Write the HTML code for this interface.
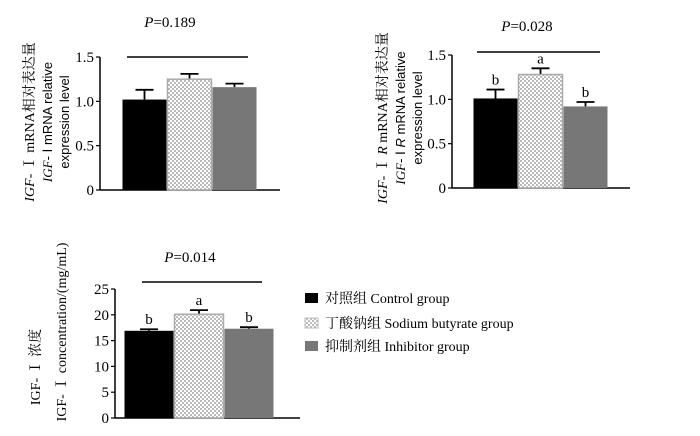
<!DOCTYPE html>
<html><head><meta charset="utf-8"><style>
body{margin:0;background:#fff;}
svg{display:block;font-family:"Liberation Serif","Noto Serif CJK SC",serif;}
</style></head><body>
<svg id="s" width="700" height="436" viewBox="0 0 700 436" xmlns="http://www.w3.org/2000/svg">
<defs>
<pattern id="chk" width="4" height="4" patternUnits="userSpaceOnUse">
<rect width="4" height="4" fill="#fff"/><rect width="2" height="2" fill="#bbb"/><rect x="2" y="2" width="2" height="2" fill="#bbb"/>
</pattern>
</defs>
<!-- y-axis titles -->
<g font-size="14">
<text transform="translate(34,122) rotate(-90)" text-anchor="middle"><tspan font-style="italic">IGF</tspan>- Ⅰ mRNA相对表达量</text>
<text transform="translate(52,122) rotate(-90)" text-anchor="middle" font-family="Liberation Sans, sans-serif" font-size="13"><tspan font-style="italic" font-family="Liberation Serif">IGF</tspan>- Ⅰ mRNA relative</text>
<text transform="translate(69,122) rotate(-90)" text-anchor="middle" font-family="Liberation Sans, sans-serif" font-size="13">expression level</text>
</g>
<g font-size="14">
<text transform="translate(387,118) rotate(-90)" text-anchor="middle"><tspan font-style="italic">IGF</tspan>- Ⅰ <tspan font-style="italic">R</tspan> mRNA相对表达量</text>
<text transform="translate(405,118) rotate(-90)" text-anchor="middle" font-family="Liberation Sans, sans-serif" font-size="13"><tspan font-style="italic" font-family="Liberation Serif">IGF</tspan>- Ⅰ <tspan font-style="italic">R</tspan> mRNA relative</text>
<text transform="translate(422,118) rotate(-90)" text-anchor="middle" font-family="Liberation Sans, sans-serif" font-size="13">expression level</text>
</g>
<g font-size="14">
<text transform="translate(40,367) rotate(-90)" text-anchor="middle">IGF- Ⅰ 浓度</text>
<text transform="translate(66,332) rotate(-90)" text-anchor="middle">IGF- Ⅰ  concentration/(mg/mL)</text>
</g>
<!-- legend -->
<g font-size="14">
<rect x="305" y="293" width="13" height="10" fill="#000"/>
<text x="325" y="303">对照组  Control group</text>
<rect x="305" y="318" width="13" height="10" fill="url(#chk)" stroke="#bbb"/>
<text x="325" y="328">丁酸钠组  Sodium butyrate group</text>
<rect x="305" y="341" width="13" height="10" fill="#777"/>
<text x="325" y="351">抑制剂组  Inhibitor group</text>
</g>
</svg>
<script>
const c1Values=[1.02,1.25,1.16];
const c1Errors=[0.11,0.06,0.04];
const c1Letters=["","",""];
const c1Ticks=["0","0.5","1.0","1.5"];
const c1TickVals=[0,0.5,1.0,1.5];
const c2Values=[1.01,1.28,0.92];
const c2Errors=[0.10,0.07,0.05];
const c2Letters=["b","a","b"];
const c2Ticks=["0","0.5","1.0","1.5"];
const c2TickVals=[0,0.5,1.0,1.5];
const c3Values=[16.9,20.1,17.3];
const c3Errors=[0.3,0.8,0.3];
const c3Letters=["b","a","b"];
const c3Ticks=["0","5","10","15","20","25"];
const c3TickVals=[0,5,10,15,20,25];
const groups=["control","butyrate","inhibitor"];
const fills=["#000","url(#chk)","#777"];
const svg=document.getElementById('s');
const NS="http://www.w3.org/2000/svg";
function mk(tag,attrs,parent){const e=document.createElementNS(NS,tag);for(const k in attrs)e.setAttribute(k,attrs[k]);parent.appendChild(e);return e;}
function chart(id,cfg,vals,errs,letters,ticks,tickVals){
  const g=mk('g',{},svg);
  
  
  const y=v=>cfg.y0-(v/cfg.max)*(cfg.y0-cfg.yTop);
  const xAxis=mk('line',{x1:cfg.ax,x2:cfg.axEnd,y1:cfg.y0,y2:cfg.y0,stroke:'#000','stroke-width':1.5},g);
  
  
  const yAxis=mk('line',{x1:cfg.ax,x2:cfg.ax,y1:cfg.y0,y2:cfg.yTop,stroke:'#000','stroke-width':1.5},g);
  
  
  tickVals.forEach((tv,i)=>{
    const tk=mk('line',{x1:cfg.ax-4,x2:cfg.ax,y1:y(tv),y2:y(tv),stroke:'#000','stroke-width':1.2},g);
    
    
    const t=mk('text',{x:cfg.ax-6,y:y(tv)+5,'text-anchor':'end','font-size':15},g);
    
    
    t.textContent=ticks[i];
  });
  vals.forEach((v,i)=>{
    const x=cfg.bx+i*cfg.bw;
    const top=y(v+errs[i]);
    const eb=mk('path',{d:`M${x+cfg.bw/2},${y(v)}V${top}M${x+cfg.bw/2-9},${top}H${x+cfg.bw/2+9}`,stroke:'#000','stroke-width':1.8,fill:'none'},g);
    
    
    const r=mk('rect',{x:x+0.5,y:y(v),width:cfg.bw-1,height:cfg.y0-y(v),fill:fills[i],stroke:i==1?'#aaa':'none','stroke-width':1.5},g);
    
    
    if(letters[i]){
      const l=mk('text',{x:x+cfg.bw/2,y:top-5,'text-anchor':'middle','font-size':15},g);
      
      
      l.textContent=letters[i];
    }
  });
  const pl=mk('line',{x1:cfg.px1,x2:cfg.px2,y1:cfg.py,y2:cfg.py,stroke:'#000','stroke-width':1.5},g);
  
  
  const pt=mk('text',{x:cfg.ptx,y:cfg.pty,'text-anchor':'middle','font-size':15},g);
  
  
  pt.innerHTML='<tspan font-style="italic">P</tspan>='+cfg.p;
}
chart('chart-igf1-mrna',{ax:100,axEnd:280,y0:190,yTop:57,max:1.5,bx:122,bw:45,px1:127,px2:248,py:57,ptx:170,pty:27,p:'0.189'},c1Values,c1Errors,c1Letters,c1Ticks,c1TickVals);
chart('chart-igf1r-mrna',{ax:452,axEnd:630,y0:188,yTop:55,max:1.5,bx:473,bw:45,px1:477,px2:600,py:52,ptx:527,pty:31,p:'0.028'},c2Values,c2Errors,c2Letters,c2Ticks,c2TickVals);
chart('chart-igf1-concentration',{ax:115,axEnd:300,y0:418,yTop:289,max:25,bx:124,bw:50,px1:142,px2:262,py:282,ptx:190,pty:262,p:'0.014'},c3Values,c3Errors,c3Letters,c3Ticks,c3TickVals);
</script>
</body></html>
